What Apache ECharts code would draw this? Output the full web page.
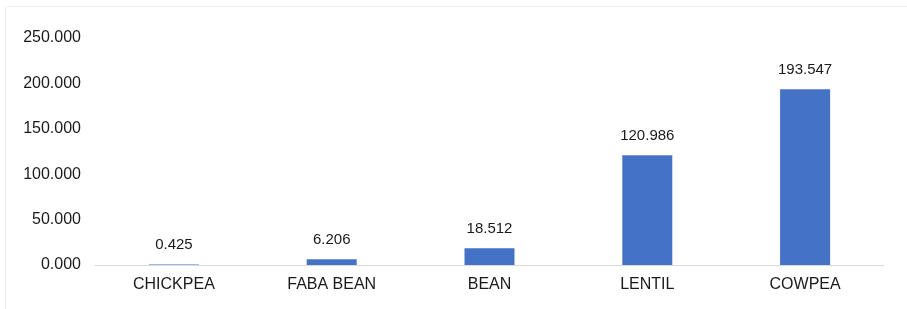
<!DOCTYPE html>
<html>
<head>
<meta charset="utf-8">
<script src="https://cdn.jsdelivr.net/npm/echarts@6/dist/echarts.min.js"></script>
<style>
  html, body { margin: 0; padding: 0; background: #fff; }
  #main { width: 907px; height: 309px; }
</style>
</head>
<body>
<div id="main"></div>
<script>
var categories = ['CHICKPEA', 'FABA BEAN', 'BEAN', 'LENTIL', 'COWPEA'];
var values = [0.425, 6.206, 18.512, 120.986, 193.547];

var chart = echarts.init(document.getElementById('main'));

var option = {
  animation: false,
  textStyle: { fontFamily: 'Liberation Sans, Arial, sans-serif' },
  graphic: [{
    type: 'rect',
    shape: { x: 5.5, y: 6.5, width: 920, height: 320 },
    style: { fill: 'none', stroke: '#f0f0f0', lineWidth: 1 },
    silent: true
  }],
  grid: { left: 95, right: 23, top: 38, bottom: 44 },
  xAxis: {
    type: 'category',
    data: categories,
    axisLine: { lineStyle: { color: '#d9d9d9', width: 1 } },
    axisTick: { show: false },
    axisLabel: { color: '#1a1a1a', fontSize: 16, margin: 12 }
  },
  yAxis: {
    type: 'value',
    min: 0,
    max: 250,
    interval: 50,
    splitLine: { show: false },
    axisLine: { show: false },
    axisTick: { show: false },
    axisLabel: {
      color: '#1a1a1a',
      fontSize: 16,
      margin: 14,
      formatter: function (v) { return v.toFixed(3); }
    }
  },
  series: [{
    type: 'bar',
    data: values,
    barWidth: 50,
    itemStyle: { color: '#4472C4' },
    label: {
      show: true,
      position: 'top',
      distance: 12,
      color: '#1a1a1a',
      fontSize: 15,
      formatter: function (p) { return p.value.toFixed(3); }
    }
  }]
};

chart.setOption(option);
</script>
</body>
</html>
